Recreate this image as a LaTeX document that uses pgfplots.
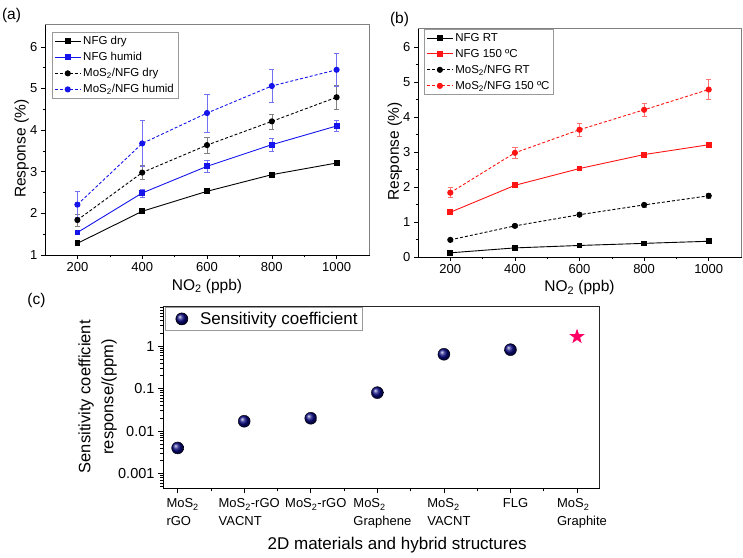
\documentclass[border=0pt]{standalone}
\usepackage{pgfplots}
\pgfplotsset{compat=1.18}
\usepackage{pgfplotstable}
\usepackage{fontspec}
\setmainfont{Liberation Sans}
\usetikzlibrary{plotmarks}

\definecolor{cblue}{RGB}{20,20,235}
\definecolor{cred}{RGB}{255,20,20}
\definecolor{navyb}{RGB}{10,10,130}
\definecolor{cstar}{RGB}{255,0,100}

\pgfdeclareplotmark{fstar}{%
  \pgfpathmoveto{\pgfpointpolar{90}{\pgfplotmarksize}}%
  \pgfpathlineto{\pgfpointpolar{126}{0.4*\pgfplotmarksize}}%
  \pgfpathlineto{\pgfpointpolar{162}{\pgfplotmarksize}}%
  \pgfpathlineto{\pgfpointpolar{198}{0.4*\pgfplotmarksize}}%
  \pgfpathlineto{\pgfpointpolar{234}{\pgfplotmarksize}}%
  \pgfpathlineto{\pgfpointpolar{270}{0.4*\pgfplotmarksize}}%
  \pgfpathlineto{\pgfpointpolar{306}{\pgfplotmarksize}}%
  \pgfpathlineto{\pgfpointpolar{342}{0.4*\pgfplotmarksize}}%
  \pgfpathlineto{\pgfpointpolar{18}{\pgfplotmarksize}}%
  \pgfpathlineto{\pgfpointpolar{54}{0.4*\pgfplotmarksize}}%
  \pgfpathclose\pgfusepathqfill}

% panel (a)
\pgfplotstableread{
x ndry ndrye nhum nhume mdry mdrye mhum mhume
200 1.28 0.03 1.54 0.04 1.84 0.14 2.21 0.31
400 2.05 0.03 2.49 0.10 2.98 0.17 3.68 0.56
600 2.53 0.03 3.13 0.14 3.64 0.19 4.41 0.46
800 2.93 0.03 3.65 0.16 4.21 0.18 5.06 0.40
1000 3.21 0.04 4.10 0.13 4.79 0.29 5.45 0.40
}\tabA
% panel (b)
\pgfplotstableread{
x nrt nrte nhot nhote mrt mrte mhot mhote
200 0.12 0.02 1.28 0.03 0.49 0.03 1.84 0.14
400 0.26 0.02 2.05 0.03 0.89 0.04 2.98 0.17
600 0.33 0.02 2.53 0.03 1.21 0.03 3.64 0.19
800 0.39 0.02 2.93 0.03 1.49 0.06 4.21 0.18
1000 0.45 0.02 3.21 0.04 1.75 0.07 4.79 0.29
}\tabB
% panel (c)
\pgfplotstableread{
x s
0 0.004
1 0.017
2 0.020
3 0.080
4 0.64
5 0.82
}\tabC
\pgfplotstableread{
x s
6 1.66
}\tabCstar

\pgfplotsset{
  resp/.style={
    scale only axis, anchor=south west,
    xmin=100, xmax=1100,
    xtick={200,400,600,800,1000},
    minor xtick={300,500,700,900},
    minor y tick num=1,
    tick pos=left, tick align=outside,
    major tick length=4pt, minor tick length=2.5pt,
    every tick/.style={black, line width=0.6pt},
    axis line style={line width=0.8pt},
    /pgf/number format/assume math mode=true,
    /pgf/number format/1000 sep={},
    ticklabel style={font=\fontsize{13}{15}\selectfont},
    xlabel={NO\textsubscript{2} (ppb)},
    ylabel={Response (\%)},
    every axis x label/.style={at={(axis description cs:0.5,-0.135)}, anchor=center, font=\fontsize{15.5}{17}\selectfont},
    every axis y label/.style={at={(axis description cs:-0.072,0.46)}, anchor=center, rotate=90, font=\fontsize{15.5}{17}\selectfont},
    legend style={draw=gray!80, line width=0.6pt, font=\fontsize{11.5}{13}\selectfont,
      row sep=2.2pt, inner sep=2pt, cells={anchor=west}},
    legend image code/.code={\draw[mark repeat=2,mark phase=2,#1] plot coordinates {(0pt,0pt)(13pt,0pt)(26pt,0pt)};},
  },
  sq/.style={line width=0.9pt, mark=square*, mark size=2.4pt, mark options={solid}},
  ci/.style={line width=0.9pt, dash pattern=on 3pt off 2pt, mark=*, mark size=2.6pt, mark options={solid}},
  eb/.style={error bars/.cd, y dir=both, y explicit,
     error bar style={solid, line width=0.6pt, #1},
     error mark options={rotate=90, mark size=2.6pt, line width=0.6pt, #1}},
}

\begin{document}
\begin{tikzpicture}
\useasboundingbox (0,0) rectangle (743pt,557pt);

\node[font=\fontsize{15.5}{17}\selectfont] at (11.5pt,541.5pt) {(a)};
\node[font=\fontsize{15.5}{17}\selectfont] at (399.5pt,537.5pt) {(b)};
\node[font=\fontsize{15.5}{17}\selectfont] at (36.5pt,257pt) {(c)};

% ---------------- (a)
\begin{axis}[resp, name=axa, at={(45pt,302pt)}, width=324pt, height=231pt,
  ymin=1, ymax=6.55, ytick={1,2,3,4,5,6},
  legend style={at={(0.0216,0.965)}, anchor=north west}]
\addplot[sq, black, eb={color=gray}] table[x=x, y=ndry, y error=ndrye] {\tabA};
\addlegendentry{NFG dry}
\addplot[sq, cblue, eb={color=cblue!60}] table[x=x, y=nhum, y error=nhume] {\tabA};
\addlegendentry{NFG humid}
\addplot[ci, black, eb={color=gray}] table[x=x, y=mdry, y error=mdrye] {\tabA};
\addlegendentry{MoS\textsubscript{2}/NFG dry}
\addplot[ci, cblue, eb={color=cblue!60}] table[x=x, y=mhum, y error=mhume] {\tabA};
\addlegendentry{MoS\textsubscript{2}/NFG humid}
\end{axis}
\draw[gray, line width=0.8pt] (axa.north west) -- (axa.north east) -- (axa.south east);

% ---------------- (b)
\begin{axis}[resp, name=axb, at={(418pt,300pt)}, width=323pt, height=229pt,
  ymin=0, ymax=6.55, ytick={0,1,2,3,4,5,6},
  legend style={at={(0.019,0.995)}, anchor=north west}]
\addplot[sq, black, eb={color=gray}] table[x=x, y=nrt, y error=nrte] {\tabB};
\addlegendentry{NFG RT}
\addplot[sq, cred, eb={color=cred!60}] table[x=x, y=nhot, y error=nhote] {\tabB};
\addlegendentry{NFG 150 ºC}
\addplot[ci, black, eb={color=gray}] table[x=x, y=mrt, y error=mrte] {\tabB};
\addlegendentry{MoS\textsubscript{2}/NFG RT}
\addplot[ci, cred, eb={color=cred!60}] table[x=x, y=mhot, y error=mhote] {\tabB};
\addlegendentry{MoS\textsubscript{2}/NFG 150 ºC}
\end{axis}
\draw[gray, line width=0.8pt] (axb.north west) -- (axb.north east) -- (axb.south east);

% ---------------- (c)
\begin{axis}[name=axc, scale only axis, anchor=south west, at={(163pt,68.7pt)}, width=436pt, height=182pt,
  ymode=log, ymin=4.5e-4, ymax=8.6,
  xmin=-0.22, xmax=6.33,
  xtick={0,1,2,3,4,5,6},
  minor xtick={0.5,1.5,2.5,3.5,4.5,5.5},
  xticklabels={{MoS\textsubscript{2}\\rGO},{MoS\textsubscript{2}-rGO\\VACNT},{MoS\textsubscript{2}-rGO},{MoS\textsubscript{2}\\Graphene},{MoS\textsubscript{2}\\VACNT},{FLG},{MoS\textsubscript{2}\\Graphite}},
  xticklabel style={align=left, font=\fontsize{13}{18}\selectfont, anchor=north, yshift=-2pt, xshift=5pt},
  ytick={0.001,0.01,0.1,1},
  yticklabels={0.001,0.01,0.1,1},
  minor ytick={5e-4,6e-4,7e-4,8e-4,9e-4,2e-3,3e-3,4e-3,5e-3,6e-3,7e-3,8e-3,9e-3,2e-2,3e-2,4e-2,5e-2,6e-2,7e-2,8e-2,9e-2,0.2,0.3,0.4,0.5,0.6,0.7,0.8,0.9,2,3,4,5,6,7,8},
  yticklabel style={font=\fontsize{14.5}{17}\selectfont},
  tick pos=left, tick align=outside,
  major tick length=5pt, minor tick length=3pt,
  every tick/.style={black, line width=0.6pt},
  axis line style={line width=0.8pt},
  xlabel={2D materials and hybrid structures},
  ylabel={Sensitivity coefficient\\response/(ppm)},
  every axis x label/.style={at={(axis description cs:0.537,-0.31)}, anchor=center, font=\fontsize{17}{19}\selectfont},
  every axis y label/.style={at={(axis description cs:-0.150,0.503)}, anchor=center, rotate=90, align=center, font=\fontsize{16.5}{23}\selectfont},
  legend style={at={(0.004,0.995)}, anchor=north west, draw=gray!80, line width=0.6pt,
     font=\fontsize{17}{19}\selectfont, inner sep=2.5pt},
  legend image code/.code={\path (0pt,0pt); \draw[#1] plot coordinates {(14pt,0pt)};},
  clip=false]
\addplot[only marks, mark=ball, mark size=6pt, mark options={ball color=navyb}] table[x=x, y=s] {\tabC};
\addlegendentry{\hspace{10pt}Sensitivity coefficient\hspace{1pt}}
\addplot[only marks, mark=fstar, mark size=8pt, color=cstar, forget plot] table[x=x, y=s] {\tabCstar};
\end{axis}
\draw[black!85, line width=0.8pt] (axc.north west) -- (axc.north east) -- (axc.south east);
\end{tikzpicture}
\end{document}
